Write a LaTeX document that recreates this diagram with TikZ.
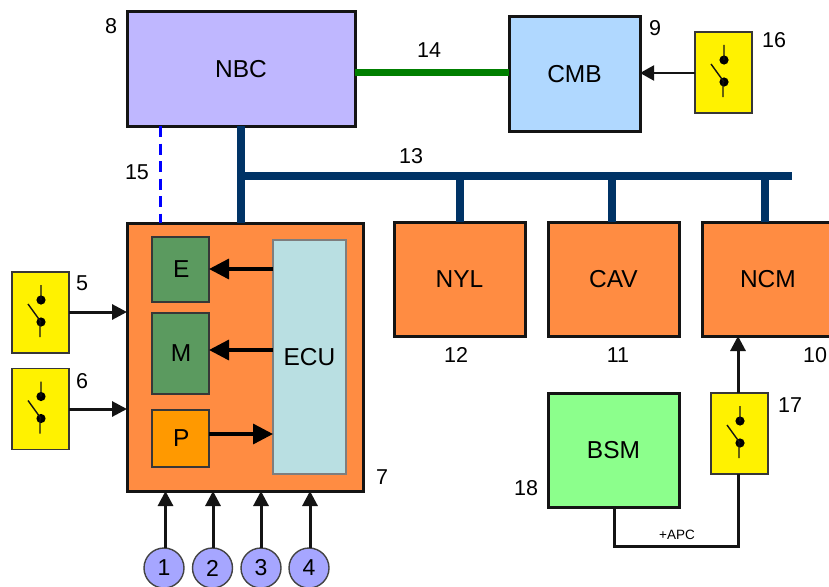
\documentclass[tikz,border=0pt]{standalone}
\usepackage{fontspec}
\setmainfont{Liberation Sans}
\usetikzlibrary{arrows.meta}
\definecolor{orangeb}{HTML}{FF8C42}
\definecolor{greenb}{HTML}{5B9A5F}
\definecolor{pb}{HTML}{FF9900}
\definecolor{ecub}{HTML}{B9DFE2}
\definecolor{nbcb}{HTML}{BFB7FF}
\definecolor{cmbb}{HTML}{B0D8FF}
\definecolor{bsmb}{HTML}{8CFF8C}
\definecolor{circb}{HTML}{A6A6FF}
\definecolor{busc}{HTML}{003366}
\definecolor{canc}{HTML}{007F00}
\definecolor{ink}{HTML}{141414}
\tikzset{
  x=1pt,y=-1pt,
  bx/.style={draw=ink,line width=3pt,inner sep=0pt,outer sep=0pt,font=\fontsize{24.5}{26}\selectfont,anchor=north west},
  sub/.style={draw=ink!85,line width=1.4pt,inner sep=0pt,outer sep=0pt,font=\fontsize{24.5}{26}\selectfont,anchor=north west},
  swbox/.style={draw=ink!85,fill=yellow,line width=1.3pt,inner sep=0pt,outer sep=0pt,minimum width=57pt,minimum height=81pt,anchor=north west},
  num/.style={font=\fontsize{21.5}{23}\selectfont,inner sep=0pt},
  pin/.style={circle,draw=ink!80,fill=circb,line width=1.4pt,minimum size=40pt,inner sep=0pt,outer sep=0pt,font=\fontsize{23}{24}\selectfont},
  sig/.style={draw=ink,line width=3pt,-{Triangle[length=15pt,width=15pt]}},
  sigthin/.style={draw=ink,line width=2pt,-{Triangle[length=14pt,width=15pt]}},
  sigbig/.style={draw=black,line width=3.4pt,-{Triangle[length=20pt,width=20pt]}},
  wire/.style={draw=ink,line width=3pt},
  bus/.style={draw=busc,line width=8pt},
}
\newcommand{\switchbox}[3]{%
  \node[swbox] (#1) at (#2,#3) {};
  \begin{scope}[shift={(#2,#3)}]
    \fill[black] (29,28) circle (4.6pt) (29,50) circle (4.6pt);
    \draw[ink,line width=1.4pt] (29,13) -- (29,28) (28,50) -- (28,65) (16,32) -- (29,50);
  \end{scope}}
\begin{document}
\begin{tikzpicture}
\useasboundingbox (0,0) rectangle (829,586);
\clip (0,0) rectangle (829,586);
\fill[white] (0,0) rectangle (829,586);
% main boxes
\node[bx,fill=nbcb,minimum width=228pt,minimum height=114pt] (nbc) at (127,12) {\raisebox{-1.5pt}{NBC}};
\node[bx,fill=cmbb,minimum width=131pt,minimum height=114pt] (cmb) at (509,17) {CMB};
\node[bx,fill=orangeb,minimum width=236pt,minimum height=268pt] (blk) at (127,223) {};
\node[bx,fill=orangeb,minimum width=131pt,minimum height=114pt] (nyl) at (394,222) {NYL};
\node[bx,fill=orangeb,minimum width=131pt,minimum height=114pt] (cav) at (548,222) {CAV};
\node[bx,fill=orangeb,minimum width=140pt,minimum height=114pt,text width=134pt,align=left] (ncm) at (702,222) {\hspace*{35pt}NCM};
\node[bx,fill=bsmb,minimum width=131pt,minimum height=114pt] (bsm) at (548,393) {BSM};
% inner boxes
\node[sub,fill=greenb,minimum width=57pt,minimum height=65pt] (e) at (152,237) {\hspace*{1.5pt}E};
\node[sub,fill=greenb,minimum width=57pt,minimum height=81pt] (m) at (152,313) {\hspace*{1pt}M};
\node[sub,fill=pb,minimum width=57pt,minimum height=57pt] (p) at (152,410) {\hspace*{1.5pt}P};
\node[sub,fill=ecub,draw=ink!55,minimum width=73pt,minimum height=234pt] (ecu) at (273,240) {ECU};
% switches
\switchbox{s5}{12}{272}
\switchbox{s6}{12}{368.5}
\switchbox{s16}{695}{32}
\switchbox{s17}{711}{393}
% pins
\node[pin] (p1) at (164,568) {1};
\node[pin] (p2) at (212.5,568) {2};
\node[pin] (p3) at (261,568) {3};
\node[pin] (p4) at (309,568) {4};
% positions of the connector stubs
\coordinate (b1) at (241,176);
\coordinate (b2) at (460,176);
\coordinate (b3) at (611.5,176);
\coordinate (b4) at (765,176);
\coordinate (busend) at (792,176);
\coordinate (d15) at (160,176);
\coordinate (y1) at (165.5,500);
\coordinate (y2) at (213,500);
\coordinate (y3) at (261,500);
\coordinate (y4) at (310,500);
\coordinate (a17) at (738,400);
\coordinate (corner) at (614,546);
% buses
\draw[canc,line width=7pt] (nbc.east |- 0,72) -- (cmb.west |- 0,72);
\draw[bus] (nbc.south -| b1) -- (blk.north -| b1);
\draw[bus] (b1) -- (busend);
\draw[bus] (b2) -- (nyl.north -| b2);
\draw[bus] (b3) -- (cav.north -| b3);
\draw[bus] (b4) -- (ncm.north -| b4);
\draw[blue,line width=3pt,dash pattern=on 11pt off 6.5pt] (nbc.south -| d15) -- (blk.north -| d15);
% signals
\draw[sigthin] (s16.west |- 0,73) -- (cmb.east |- 0,73);
\draw[sig] (s5.east |- 0,312) -- (blk.west |- 0,312);
\draw[sig] (s6.east |- 0,409) -- (blk.west |- 0,409);
\draw[sigbig] (ecu.west |- 0,269) -- (e.east |- 0,269);
\draw[sigbig] (ecu.west |- 0,350) -- (m.east |- 0,350);
\draw[sigbig] (p.east |- 0,434) -- (ecu.west |- 0,434);
\draw[sig] (p1.north -| y1) -- (blk.south -| y1);
\draw[sig] (p2.north -| y2) -- (blk.south -| y2);
\draw[sig] (p3.north -| y3) -- (blk.south -| y3);
\draw[sig] (p4.north -| y4) -- (blk.south -| y4);
\draw[sig] (s17.north -| a17) -- (ncm.south -| a17);
\draw[wire] (bsm.south -| corner) -- (corner) -- (corner -| a17) -- (s17.south -| a17);
\node[font=\fontsize{13.5}{14}\selectfont,inner sep=0pt] (apc) at (677,535) {+APC};
% numbers
\node[num] (n5) at (82,283) {5};
\node[num] (n6) at (82,381) {6};
\node[num] (n7) at (382,477) {7};
\node[num] (n8) at (111,26) {8};
\node[num] (n9) at (655,28) {9};
\node[num] (n10) at (815,355) {10};
\node[num] (n11) at (618,355) {11};
\node[num] (n12) at (456,355) {12};
\node[num] (n13) at (411,156) {13};
\node[num] (n14) at (429,50) {14};
\node[num] (n15) at (137,172) {15};
\node[num] (n16) at (774,40) {16};
\node[num] (n17) at (790,405) {17};
\node[num] (n18) at (526,488) {18};
\end{tikzpicture}
\end{document}
